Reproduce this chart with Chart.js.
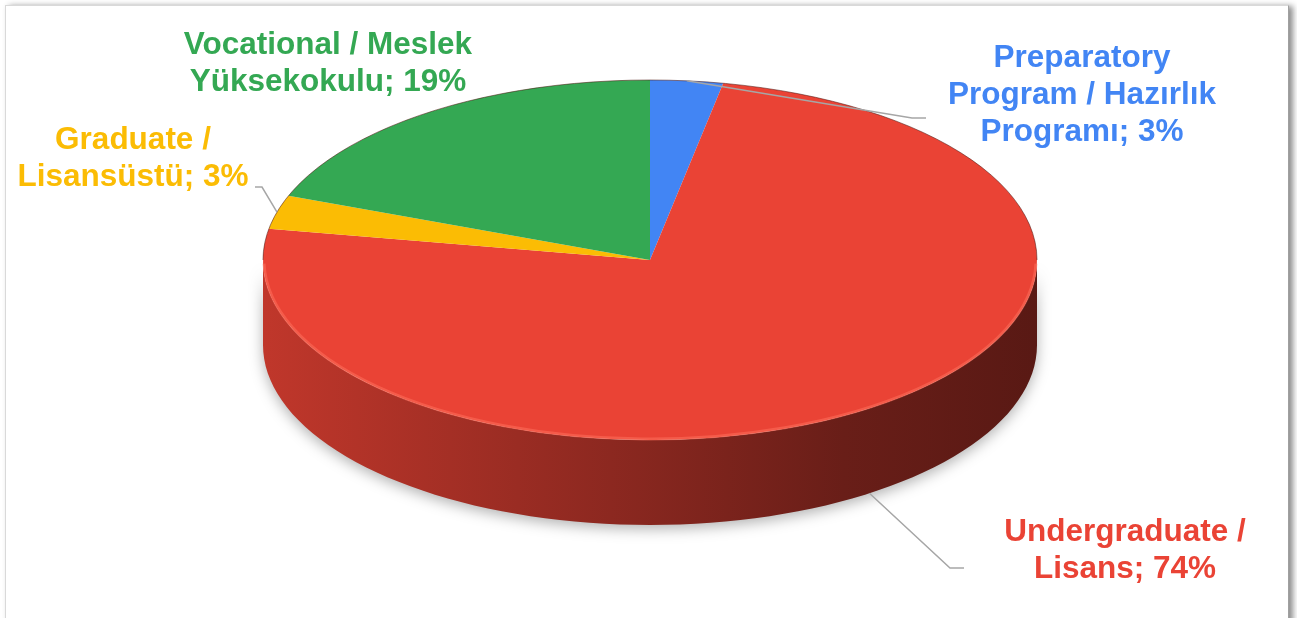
<!DOCTYPE html>
<html>
<head>
<meta charset="utf-8">
<title>Students by programme</title>
<script src="https://cdn.jsdelivr.net/npm/chart.js@4.4.0/dist/chart.umd.min.js"></script>
<style>
    html, body { margin: 0; padding: 0; background: #fff; }
    #wrap { position: relative; width: 1297px; height: 618px; overflow: hidden; }
    #frame {
        position: absolute; left: 5px; top: 5px; width: 1282px; height: 700px;
        border: 1px solid #d9d9d9; border-right-color: #a0a0a0;
        box-shadow: 4px 1px 6px rgba(0, 0, 0, 0.45);
        background: #fff;
    }
    #pie { position: absolute; left: 0; top: 0; }
</style>
</head>
<body>
<div id="wrap">
    <div id="frame"></div>
    <canvas id="pie" width="1297" height="618"></canvas>
</div>
<script>
// Programme shares (percent), clockwise from 12 o'clock
const categories = [
    ["Preparatory", "Program / Hazırlık", "Programı"],
    ["Undergraduate /", "Lisans"],
    ["Graduate /", "Lisansüstü"],
    ["Vocational / Meslek", "Yüksekokulu"]
];
const shares = [3, 74, 3, 19];
const sliceColors = ["#4285f4", "#ea4335", "#fbbc04", "#34a853"];

// Label placement: centre x, first line y, leader elbow and end
const labelSpots = [
    { x: 1082, y: 58, elbow: [912, 118], end: [926, 118] },
    { x: 1125, y: 532, elbow: [950, 568], end: [964, 568] },
    { x: 133, y: 140, elbow: [262, 187], end: [255, 187] },
    { x: 328, y: 45, elbow: null, end: null }
];

const TILT = 180 / 387;   // vertical squash of the disc
const DEPTH = 85;         // thickness of the disc in px
const LINE_H = 37;
const FONT = "bold 31.5px 'Liberation Sans', Arial, sans-serif";

function shade(hex, f) {
    const n = parseInt(hex.slice(1), 16);
    const r = Math.round(((n >> 16) & 255) * f);
    const g = Math.round(((n >> 8) & 255) * f);
    const b = Math.round((n & 255) * f);
    return `rgb(${r},${g},${b})`;
}

// point on the tilted top (or bottom, when dy = DEPTH) ellipse
function rimPoint(arc, t, dy) {
    return [arc.x + arc.outerRadius * Math.cos(t), arc.y + TILT * arc.outerRadius * Math.sin(t) + (dy || 0)];
}

const tiltPlugin = {
    id: "tilt3d",
    beforeDatasetsDraw(chart) {
        const ctx = chart.ctx;
        const arcs = chart.getDatasetMeta(0).data;
        const first = arcs[0];
        const cx = first.x, cy = first.y, R = first.outerRadius;

        // side wall for the parts of each slice that face the viewer
        arcs.forEach((arc, i) => {
            [[0, Math.PI], [2 * Math.PI, 3 * Math.PI]].forEach(([lo, hi]) => {
                const a = Math.max(arc.startAngle, lo);
                const b = Math.min(arc.endAngle, hi);
                if (b <= a) return;
                const grad = ctx.createLinearGradient(cx - R, 0, cx + R, 0);
                grad.addColorStop(0, shade(sliceColors[i], 0.82));
                grad.addColorStop(0.45, shade(sliceColors[i], 0.6));
                grad.addColorStop(0.75, shade(sliceColors[i], 0.45));
                grad.addColorStop(1, shade(sliceColors[i], 0.38));
                ctx.save();
                ctx.beginPath();
                const steps = 80;
                for (let s = 0; s <= steps; s++) {
                    const p = rimPoint(arc, a + (b - a) * s / steps, 0);
                    s === 0 ? ctx.moveTo(p[0], p[1]) : ctx.lineTo(p[0], p[1]);
                }
                for (let s = steps; s >= 0; s--) {
                    const p = rimPoint(arc, a + (b - a) * s / steps, DEPTH);
                    ctx.lineTo(p[0], p[1]);
                }
                ctx.closePath();
                ctx.shadowColor = "rgba(0,0,0,0.3)";
                ctx.shadowBlur = 14;
                ctx.shadowOffsetY = 4;
                ctx.fillStyle = grad;
                ctx.fill();
                ctx.restore();
            });
        });

        // squash the slices into the disc top
        ctx.save();
        ctx.translate(cx, cy);
        ctx.scale(1, TILT);
        ctx.translate(-cx, -cy);
    },
    afterDatasetsDraw(chart) {
        const ctx = chart.ctx;
        ctx.restore();
        const arcs = chart.getDatasetMeta(0).data;
        const first = arcs[0];
        const cx = first.x, cy = first.y, R = first.outerRadius;

        // thin dark edge at the back, light bevel at the front
        ctx.save();
        ctx.beginPath();
        ctx.ellipse(cx, cy, R, R * TILT, 0, Math.PI, 2 * Math.PI);
        ctx.strokeStyle = "rgba(80,25,20,0.55)";
        ctx.lineWidth = 1;
        ctx.stroke();
        ctx.beginPath();
        ctx.ellipse(cx, cy, R - 1, R * TILT - 1, 0, 0.02, Math.PI - 0.02);
        ctx.strokeStyle = "rgba(255,115,95,0.5)";
        ctx.lineWidth = 3;
        ctx.stroke();
        ctx.restore();

        // leader lines and labels
        ctx.save();
        ctx.font = FONT;
        ctx.textAlign = "center";
        ctx.textBaseline = "middle";
        arcs.forEach((arc, i) => {
            const spot = labelSpots[i];
            if (spot.elbow) {
                const mid = (arc.startAngle + arc.endAngle) / 2;
                const front = Math.sin(mid) > 0;
                const p = rimPoint(arc, mid, front ? DEPTH : 0);
                ctx.beginPath();
                ctx.moveTo(p[0], p[1]);
                ctx.lineTo(spot.elbow[0], spot.elbow[1]);
                ctx.lineTo(spot.end[0], spot.end[1]);
                ctx.strokeStyle = "#a6a6a6";
                ctx.lineWidth = 1.5;
                ctx.stroke();
            }
            const lines = categories[i].slice();
            lines[lines.length - 1] += "; " + shares[i] + "%";
            ctx.fillStyle = sliceColors[i];
            lines.forEach((txt, j) => ctx.fillText(txt, spot.x, spot.y + j * LINE_H));
        });
        ctx.restore();
    }
};

new Chart(document.getElementById("pie"), {
    type: "pie",
    data: {
        labels: categories.map(c => c.join(" ")),
        datasets: [{
            data: shares,
            backgroundColor: sliceColors,
            borderWidth: 0,
            radius: 387,
            clip: false
        }]
    },
    options: {
        responsive: false,
        animation: false,
        events: [],
        layout: { padding: { left: 3, right: 0, top: 0, bottom: 98 } },
        plugins: {
            legend: { display: false },
            tooltip: { enabled: false }
        }
    },
    plugins: [tiltPlugin]
});
</script>
</body>
</html>
